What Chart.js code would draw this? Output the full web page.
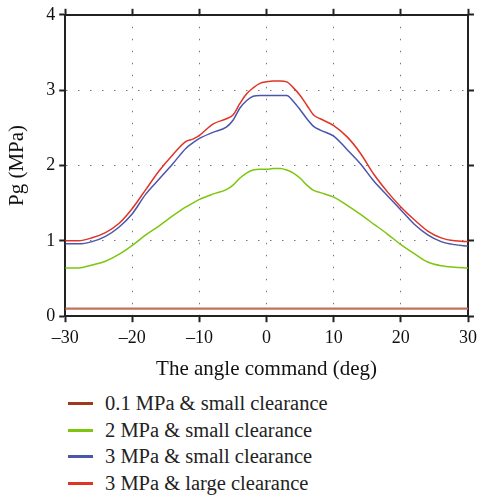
<!DOCTYPE html>
<html>
<head>
<meta charset="utf-8">
<script src="https://cdn.jsdelivr.net/npm/chart.js@4.4.0/dist/chart.umd.min.js"></script>
<style>
    body { margin: 0; background: #fff; width: 477px; height: 497px; overflow: hidden; font-family: "Liberation Serif", serif; }
    #wrap { position: absolute; left: 0; top: 0; width: 477px; height: 390px; }
    #legend { position: absolute; left: 68px; top: 390px; color: #222; font-size: 20.5px; }
    #legend div { height: 26.5px; line-height: 26.5px; white-space: nowrap; }
    #legend span { display: inline-block; width: 25px; height: 3px; vertical-align: middle; margin-right: 12px; margin-top: -3px; }
</style>
</head>
<body>
<div id="wrap"><canvas id="chartPg"></canvas></div>
<div id="legend"></div>
<script>
// angle command (deg)
const angles = [-30, -28, -26, -24, -22, -20, -18, -16, -14, -12, -11, -10, -8, -6, -5, -4, -3, -2, -1,
    0, 1, 2, 3, 4, 5, 6, 7, 8, 10, 12, 14, 16, 18, 20, 22, 24, 26, 28, 30];
// Pg (MPa)
const pg01Small = [0.1, 0.1, 0.1, 0.1, 0.1, 0.1, 0.1, 0.1, 0.1, 0.1, 0.1, 0.1, 0.1, 0.1, 0.1, 0.1, 0.1, 0.1, 0.1,
    0.1, 0.1, 0.1, 0.1, 0.1, 0.1, 0.1, 0.1, 0.1, 0.1, 0.1, 0.1, 0.1, 0.1, 0.1, 0.1, 0.1, 0.1, 0.1, 0.1];
const pg2Small = [0.64, 0.64, 0.68, 0.73, 0.82, 0.94, 1.08, 1.20, 1.33, 1.45, 1.50, 1.55, 1.62, 1.68, 1.74, 1.83, 1.90, 1.94, 1.95,
    1.95, 1.96, 1.96, 1.94, 1.90, 1.83, 1.74, 1.67, 1.64, 1.58, 1.47, 1.35, 1.22, 1.09, 0.95, 0.83, 0.72, 0.67, 0.65, 0.64];
const pg3Small = [0.96, 0.96, 0.99, 1.06, 1.18, 1.36, 1.62, 1.82, 2.02, 2.23, 2.30, 2.36, 2.44, 2.51, 2.60, 2.76, 2.86, 2.92, 2.93,
    2.93, 2.93, 2.93, 2.93, 2.85, 2.74, 2.62, 2.52, 2.47, 2.39, 2.21, 2.02, 1.79, 1.60, 1.41, 1.22, 1.08, 0.99, 0.95, 0.93];
const pg3Large = [1.00, 1.00, 1.04, 1.11, 1.23, 1.43, 1.68, 1.93, 2.14, 2.32, 2.35, 2.40, 2.55, 2.62, 2.67, 2.82, 2.95, 3.03, 3.09,
    3.11, 3.12, 3.12, 3.11, 3.03, 2.93, 2.80, 2.67, 2.62, 2.53, 2.38, 2.16, 1.88, 1.65, 1.45, 1.28, 1.13, 1.04, 1.00, 0.99];
const xTicks = [-30, -20, -10, 0, 10, 20, 30];
const yTicks = [0, 1, 2, 3, 4];

const series = [
    { label: '0.1 MPa & small clearance', values: pg01Small, color: '#c2705c', key: '#a0381c', width: 2.2 },
    { label: '2 MPa & small clearance', values: pg2Small, color: '#7cc60e', key: '#7cc60e', width: 1.5 },
    { label: '3 MPa & small clearance', values: pg3Small, color: '#4a56ac', key: '#4a56ac', width: 1.5 },
    { label: '3 MPa & large clearance', values: pg3Large, color: '#e03424', key: '#e03424', width: 1.5 }
];

const datasets = [];
for (let s of series) {
    datasets.push({
        label: s.label,
        data: angles.map((a, i) => ({ x: a, y: s.values[i] })),
        borderColor: s.color,
        backgroundColor: s.key,
        borderWidth: s.width,
        pointRadius: 0,
        cubicInterpolationMode: 'monotone',
        fill: false
    });
}

const tickFont = { family: 'Liberation Serif', size: 18 };
const titleFont = { family: 'Liberation Serif', size: 21 };
const dash = (v) => v < 0 ? '\u2013' + Math.abs(v) : '' + v;

const config = {
    type: 'line',
    data: { datasets: datasets },
    options: {
        responsive: true,
        maintainAspectRatio: false,
        animation: false,
        layout: { autoPadding: false, padding: { left: 5, right: 3, top: 7, bottom: 8 } },
        plugins: { legend: { display: false }, tooltip: { enabled: false } },
        scales: {
            x: {
                type: 'linear', min: -30, max: 30,
                afterBuildTicks: (sc) => { sc.ticks = xTicks.map(v => ({ value: v })); },
                // let the "30" label run to the page edge as in the original
                afterFit: (sc) => { sc.paddingRight = 0; },
                ticks: { font: tickFont, color: '#111', padding: 5, callback: dash, maxRotation: 0 },
                grid: { color: '#777', lineWidth: 1, tickLength: 6, tickColor: '#222', tickWidth: 2 },
                border: { color: '#222', width: 2, dash: [1.5, 10.5] },
                title: { display: true, text: 'The angle command (deg)', font: titleFont, color: '#111', padding: { top: 3, bottom: 0 } }
            },
            y: {
                type: 'linear', min: 0, max: 4,
                afterBuildTicks: (sc) => { sc.ticks = yTicks.map(v => ({ value: v })); },
                ticks: { font: tickFont, color: '#111', padding: 4 },
                grid: { color: '#777', lineWidth: 1, tickLength: 6, tickColor: '#222', tickWidth: 2 },
                border: { color: '#222', width: 2, dash: [1.5, 10.5] },
                title: { display: true, text: 'Pg (MPa)', font: titleFont, color: '#111', padding: { top: 0, bottom: 12 } }
            },
            x2: {
                type: 'linear', position: 'top', min: -30, max: 30,
                afterBuildTicks: (sc) => { sc.ticks = xTicks.map(v => ({ value: v })); },
                afterFit: (sc) => { sc.paddingRight = 0; sc.paddingLeft = 0; },
                ticks: { display: false },
                grid: { drawOnChartArea: false, tickLength: 6, tickColor: '#222', tickWidth: 2 },
                border: { color: '#222', width: 2 }
            },
            y2: {
                type: 'linear', position: 'right', min: 0, max: 4,
                afterBuildTicks: (sc) => { sc.ticks = yTicks.map(v => ({ value: v })); },
                afterFit: (sc) => { sc.width = 6; },
                ticks: { display: false, padding: 0 },
                grid: { drawOnChartArea: false, tickLength: 6, tickColor: '#222', tickWidth: 2 },
                border: { color: '#222', width: 2 }
            }
        }
    }
};

const myChart = new Chart(document.getElementById('chartPg'), config);

// legend below the chart, one entry per row
const legendBox = document.getElementById('legend');
myChart.data.datasets.forEach(ds => {
    const row = document.createElement('div');
    const key = document.createElement('span');
    key.style.background = ds.backgroundColor;
    row.appendChild(key);
    row.appendChild(document.createTextNode(ds.label));
    legendBox.appendChild(row);
});
</script>
</body>
</html>
